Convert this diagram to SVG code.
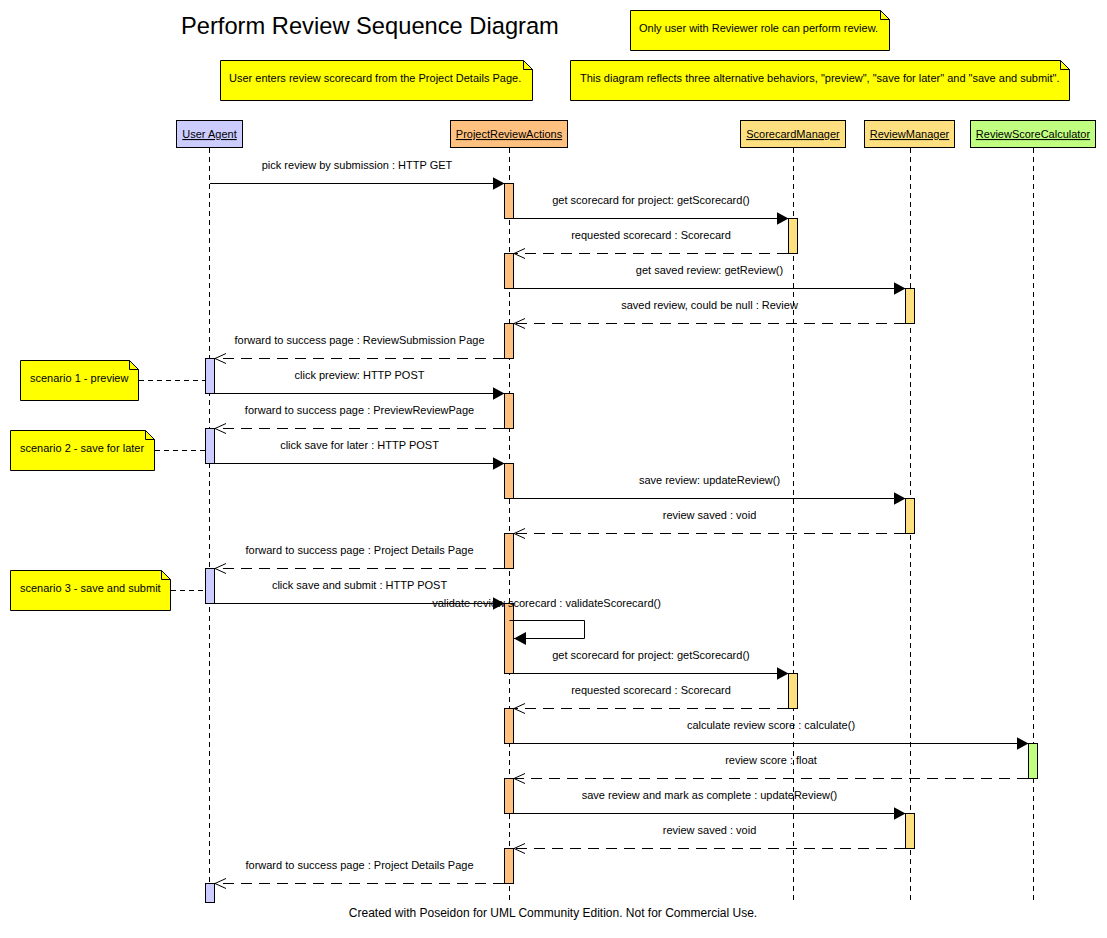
<svg xmlns="http://www.w3.org/2000/svg" width="1107" height="938" viewBox="0 0 1107 938">
<style>
text{font-family:"Liberation Sans",Arial,sans-serif;fill:#000}
.title{font-size:23.7px}
.lbl{font-size:11px;text-anchor:middle}
.ntxt{font-size:11px}
.hdr{font-size:11px;text-anchor:middle;text-decoration:underline}
.foot{font-size:12px;text-anchor:middle}
.box{stroke:#000;stroke-width:1}
.note{fill:#FFFF00;stroke:#000;stroke-width:1}
.fold{fill:none;stroke:#000;stroke-width:1}
.life{stroke:#000;stroke-width:1;stroke-dasharray:5,4;fill:none}
.call{stroke:#000;stroke-width:1;fill:none;marker-end:url(#filled)}
.ret{stroke:#000;stroke-width:1;fill:none;stroke-dasharray:11,7;marker-end:url(#open)}
.anchor{stroke:#000;stroke-width:1;fill:none;stroke-dasharray:5,4}
.ua{fill:#CCCCFF}
.pra{fill:#FFC080}
.mgr{fill:#FFE080}
.calc{fill:#C0FF80}
</style>
<defs>
<marker id="filled" markerUnits="userSpaceOnUse" markerWidth="13" markerHeight="14" refX="12" refY="6.5" orient="auto">
<path d="M0,0 L12,6.5 L0,13 z" fill="#000"/>
</marker>
<marker id="open" markerUnits="userSpaceOnUse" markerWidth="13" markerHeight="12" refX="11.5" refY="5.5" orient="auto">
<path d="M0.5,0.5 L11.5,5.5 L0.5,10.5" fill="none" stroke="#000" stroke-width="1"/>
</marker>
</defs>
<rect width="1107" height="938" fill="#fff"/>
<text class="title" x="181" y="34">Perform Review Sequence Diagram</text>

<g id="note-reviewer-role">
<path class="note" d="M630.5,10.5 H880.5 L889.5,19.5 V50.5 H630.5 Z"/>
<path class="fold" d="M880.5,10.5 V19.5 H889.5"/>
<text class="ntxt" x="639" y="32">Only user with Reviewer role can perform review.</text>
</g>
<g id="note-user-enters">
<path class="note" d="M220.5,60.5 H523.5 L532.5,69.5 V100.5 H220.5 Z"/>
<path class="fold" d="M523.5,60.5 V69.5 H532.5"/>
<text class="ntxt" x="229" y="82">User enters review scorecard from the Project Details Page.</text>
</g>
<g id="note-alternatives">
<path class="note" d="M570.5,60.5 H1060.5 L1069.5,69.5 V100.5 H570.5 Z"/>
<path class="fold" d="M1060.5,60.5 V69.5 H1069.5"/>
<text class="ntxt" x="580" y="82">This diagram reflects three alternative behaviors, "preview", "save for later" and "save and submit".</text>
</g>

<g id="lifeline-user-agent">
<rect class="box ua" x="176.5" y="120.5" width="66" height="27"/>
<text class="hdr" x="209.5" y="138">User Agent</text>
<line class="life" x1="209.5" y1="148" x2="209.5" y2="903"/>
<rect class="box ua" x="205.5" y="358.5" width="9" height="35"/>
<rect class="box ua" x="205.5" y="428.5" width="9" height="35"/>
<rect class="box ua" x="205.5" y="568.5" width="9" height="35"/>
<rect class="box ua" x="205.5" y="883.5" width="9" height="19"/>
</g>
<g id="lifeline-project-review-actions">
<rect class="box pra" x="450.5" y="120.5" width="117" height="27"/>
<text class="hdr" x="509" y="138">ProjectReviewActions</text>
<line class="life" x1="509.5" y1="148" x2="509.5" y2="903"/>
<rect class="box pra" x="504.5" y="183.5" width="9" height="35"/>
<rect class="box pra" x="504.5" y="253.5" width="9" height="35"/>
<rect class="box pra" x="504.5" y="323.5" width="9" height="35"/>
<rect class="box pra" x="504.5" y="393.5" width="9" height="35"/>
<rect class="box pra" x="504.5" y="463.5" width="9" height="35"/>
<rect class="box pra" x="504.5" y="533.5" width="9" height="35"/>
<rect class="box pra" x="504.5" y="603.5" width="9" height="70"/>
<rect class="box pra" x="504.5" y="708.5" width="9" height="35"/>
<rect class="box pra" x="504.5" y="778.5" width="9" height="35"/>
<rect class="box pra" x="504.5" y="848.5" width="9" height="35"/>
</g>
<g id="lifeline-scorecard-manager">
<rect class="box mgr" x="740.5" y="120.5" width="105" height="27"/>
<text class="hdr" x="793" y="138">ScorecardManager</text>
<line class="life" x1="793.5" y1="148" x2="793.5" y2="903"/>
<rect class="box mgr" x="788.5" y="218.5" width="9" height="35"/>
<rect class="box mgr" x="788.5" y="673.5" width="9" height="35"/>
</g>
<g id="lifeline-review-manager">
<rect class="box mgr" x="864.5" y="120.5" width="90" height="27"/>
<text class="hdr" x="909.5" y="138">ReviewManager</text>
<line class="life" x1="910.5" y1="148" x2="910.5" y2="903"/>
<rect class="box mgr" x="905.5" y="288.5" width="9" height="35"/>
<rect class="box mgr" x="905.5" y="498.5" width="9" height="35"/>
<rect class="box mgr" x="905.5" y="813.5" width="9" height="35"/>
</g>
<g id="lifeline-review-score-calculator">
<rect class="box calc" x="970.5" y="120.5" width="125" height="27"/>
<text class="hdr" x="1033" y="138">ReviewScoreCalculator</text>
<line class="life" x1="1033.5" y1="148" x2="1033.5" y2="903"/>
<rect class="box calc" x="1028.5" y="743.5" width="9" height="35"/>
</g>

<g id="note-scenario-1">
<path class="note" d="M20.5,360.5 H129.5 L138.5,369.5 V400.5 H20.5 Z"/>
<path class="fold" d="M129.5,360.5 V369.5 H138.5"/>
<text class="ntxt" x="30" y="382">scenario 1 - preview</text>
</g>
<g id="note-scenario-2">
<path class="note" d="M10.5,430.5 H145.5 L154.5,439.5 V470.5 H10.5 Z"/>
<path class="fold" d="M145.5,430.5 V439.5 H154.5"/>
<text class="ntxt" x="20" y="452">scenario 2 - save for later</text>
</g>
<g id="note-scenario-3">
<path class="note" d="M10.5,570.5 H161.5 L170.5,579.5 V610.5 H10.5 Z"/>
<path class="fold" d="M161.5,570.5 V579.5 H170.5"/>
<text class="ntxt" x="20" y="592">scenario 3 - save and submit</text>
</g>

<g id="connectors">
<line class="anchor" x1="139" y1="380.5" x2="205" y2="380.5"/>
<line class="anchor" x1="155" y1="450.5" x2="205" y2="450.5"/>
<line class="anchor" x1="171" y1="590.5" x2="205" y2="590.5"/>

<line class="call" x1="210" y1="183.5" x2="504.5" y2="183.5"/>
<text class="lbl" x="357" y="169">pick review by submission : HTTP GET</text>
<line class="call" x1="514" y1="218.5" x2="788.5" y2="218.5"/>
<text class="lbl" x="651" y="204">get scorecard for project: getScorecard()</text>
<line class="ret" x1="788" y1="253.5" x2="514" y2="253.5"/>
<text class="lbl" x="651" y="239">requested scorecard : Scorecard</text>
<line class="call" x1="514" y1="288.5" x2="905.5" y2="288.5"/>
<text class="lbl" x="709.5" y="274">get saved review: getReview()</text>
<line class="ret" x1="905" y1="323.5" x2="514" y2="323.5"/>
<text class="lbl" x="709.5" y="309">saved review, could be null : Review</text>
<line class="ret" x1="504" y1="358.5" x2="215" y2="358.5"/>
<text class="lbl" x="359.5" y="344">forward to success page : ReviewSubmission Page</text>
<line class="call" x1="215" y1="393.5" x2="504.5" y2="393.5"/>
<text class="lbl" x="359.5" y="379">click preview: HTTP POST</text>
<line class="ret" x1="504" y1="428.5" x2="215" y2="428.5"/>
<text class="lbl" x="359.5" y="414">forward to success page : PreviewReviewPage</text>
<line class="call" x1="215" y1="463.5" x2="504.5" y2="463.5"/>
<text class="lbl" x="359.5" y="449">click save for later : HTTP POST</text>
<line class="call" x1="514" y1="498.5" x2="905.5" y2="498.5"/>
<text class="lbl" x="709.5" y="484">save review: updateReview()</text>
<line class="ret" x1="905" y1="533.5" x2="514" y2="533.5"/>
<text class="lbl" x="709.5" y="519">review saved : void</text>
<line class="ret" x1="504" y1="568.5" x2="215" y2="568.5"/>
<text class="lbl" x="359.5" y="554">forward to success page : Project Details Page</text>
<line class="call" x1="215" y1="603.5" x2="504.5" y2="603.5"/>
<text class="lbl" x="359.5" y="589">click save and submit : HTTP POST</text>
<path class="call" d="M509.5,620.5 H584.5 V638.5 H514"/>
<text class="lbl" x="546.5" y="607">validate review scorecard : validateScorecard()</text>
<line class="call" x1="514" y1="673.5" x2="788.5" y2="673.5"/>
<text class="lbl" x="651" y="659">get scorecard for project: getScorecard()</text>
<line class="ret" x1="788" y1="708.5" x2="514" y2="708.5"/>
<text class="lbl" x="651" y="694">requested scorecard : Scorecard</text>
<line class="call" x1="514" y1="743.5" x2="1028.5" y2="743.5"/>
<text class="lbl" x="771" y="729">calculate review score : calculate()</text>
<line class="ret" x1="1028" y1="778.5" x2="514" y2="778.5"/>
<text class="lbl" x="771" y="764">review score : float</text>
<line class="call" x1="514" y1="813.5" x2="905.5" y2="813.5"/>
<text class="lbl" x="709.5" y="799">save review and mark as complete : updateReview()</text>
<line class="ret" x1="905" y1="848.5" x2="514" y2="848.5"/>
<text class="lbl" x="709.5" y="834">review saved : void</text>
<line class="ret" x1="504" y1="883.5" x2="215" y2="883.5"/>
<text class="lbl" x="359.5" y="869">forward to success page : Project Details Page</text>
</g>

<text class="foot" x="553" y="917">Created with Poseidon for UML Community Edition. Not for Commercial Use.</text>
</svg>
